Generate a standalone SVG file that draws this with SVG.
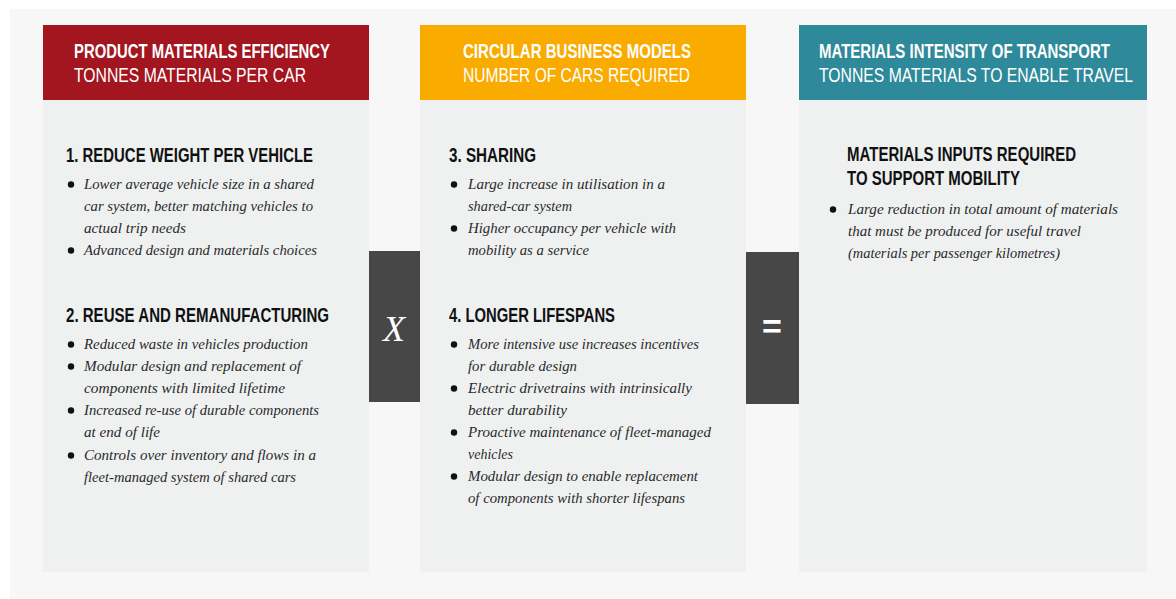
<svg xmlns="http://www.w3.org/2000/svg" width="1176" height="599" viewBox="0 0 1176 599">
  <style>
    .hd1 { font-family: "Liberation Sans", Arial, sans-serif; font-weight: bold; font-size: 19.5px; fill: #ffffff; }
    .hd2 { font-family: "Liberation Sans", Arial, sans-serif; font-size: 19.5px; fill: #ffffff; }
    .sec { font-family: "Liberation Sans", Arial, sans-serif; font-weight: bold; font-size: 19.5px; fill: #111111; }
    .it { font-family: "Liberation Serif", "Times New Roman", serif; font-style: italic; font-size: 15px; fill: #2a2a2a; }
    .body { fill: #eff1f1; }
    .op { fill: #474747; }
    .dot { fill: #111111; }
  </style>

  <!-- page background -->
  <rect x="0" y="0" width="1176" height="599" fill="#ffffff"/>
  <rect x="10" y="9" width="1166" height="590" fill="#f7f7f7"/>

  <!-- column 1: product materials efficiency -->
  <g id="panel-efficiency">
    <rect class="body" x="43" y="100" width="326" height="472"/>
    <rect x="43" y="25" width="326" height="75" fill="#a3151f"/>
    <text class="hd1" x="74" y="58" textLength="256" lengthAdjust="spacingAndGlyphs">PRODUCT MATERIALS EFFICIENCY</text>
    <text class="hd2" x="74" y="82" textLength="232" lengthAdjust="spacingAndGlyphs">TONNES MATERIALS PER CAR</text>

    <text class="sec" x="66" y="162" textLength="247" lengthAdjust="spacingAndGlyphs">1. REDUCE WEIGHT PER VEHICLE</text>
    <circle class="dot" cx="71" cy="184.5" r="3.2"/>
    <text class="it" x="84" y="189" textLength="230" lengthAdjust="spacingAndGlyphs">Lower average vehicle size in a shared</text>
    <text class="it" x="84" y="211" textLength="229" lengthAdjust="spacingAndGlyphs">car system, better matching vehicles to</text>
    <text class="it" x="84" y="233" textLength="102" lengthAdjust="spacingAndGlyphs">actual trip needs</text>
    <circle class="dot" cx="71" cy="250.5" r="3.2"/>
    <text class="it" x="84" y="255" textLength="233" lengthAdjust="spacingAndGlyphs">Advanced design and materials choices</text>

    <text class="sec" x="66" y="322" textLength="263" lengthAdjust="spacingAndGlyphs">2. REUSE AND REMANUFACTURING</text>
    <circle class="dot" cx="71" cy="344.5" r="3.2"/>
    <text class="it" x="84" y="349" textLength="224" lengthAdjust="spacingAndGlyphs">Reduced waste in vehicles production</text>
    <circle class="dot" cx="71" cy="366.5" r="3.2"/>
    <text class="it" x="84" y="371" textLength="217" lengthAdjust="spacingAndGlyphs">Modular design and replacement of</text>
    <text class="it" x="84" y="393" textLength="201" lengthAdjust="spacingAndGlyphs">components with limited lifetime</text>
    <circle class="dot" cx="71" cy="410.5" r="3.2"/>
    <text class="it" x="84" y="415" textLength="235" lengthAdjust="spacingAndGlyphs">Increased re-use of durable components</text>
    <text class="it" x="84" y="437" textLength="76" lengthAdjust="spacingAndGlyphs">at end of life</text>
    <circle class="dot" cx="71" cy="455.5" r="3.2"/>
    <text class="it" x="84" y="460" textLength="232" lengthAdjust="spacingAndGlyphs">Controls over inventory and flows in a</text>
    <text class="it" x="84" y="482" textLength="212" lengthAdjust="spacingAndGlyphs">fleet-managed system of shared cars</text>
  </g>

  <!-- column 2: circular business models -->
  <g id="panel-business">
    <rect class="body" x="420" y="100" width="326" height="472"/>
    <rect x="420" y="25" width="326" height="75" fill="#f9ab00"/>
    <text class="hd1" x="463" y="58" textLength="228" lengthAdjust="spacingAndGlyphs">CIRCULAR BUSINESS MODELS</text>
    <text class="hd2" x="463" y="82" textLength="227" lengthAdjust="spacingAndGlyphs">NUMBER OF CARS REQUIRED</text>

    <text class="sec" x="449" y="162" textLength="87" lengthAdjust="spacingAndGlyphs">3. SHARING</text>
    <circle class="dot" cx="454" cy="184.5" r="3.2"/>
    <text class="it" x="468" y="189" textLength="197" lengthAdjust="spacingAndGlyphs">Large increase in utilisation in a</text>
    <text class="it" x="468" y="211" textLength="104" lengthAdjust="spacingAndGlyphs">shared-car system</text>
    <circle class="dot" cx="454" cy="228.5" r="3.2"/>
    <text class="it" x="468" y="233" textLength="208" lengthAdjust="spacingAndGlyphs">Higher occupancy per vehicle with</text>
    <text class="it" x="468" y="255" textLength="121" lengthAdjust="spacingAndGlyphs">mobility as a service</text>

    <text class="sec" x="449" y="322" textLength="166" lengthAdjust="spacingAndGlyphs">4. LONGER LIFESPANS</text>
    <circle class="dot" cx="454" cy="344.5" r="3.2"/>
    <text class="it" x="468" y="349" textLength="231" lengthAdjust="spacingAndGlyphs">More intensive use increases incentives</text>
    <text class="it" x="468" y="371" textLength="109" lengthAdjust="spacingAndGlyphs">for durable design</text>
    <circle class="dot" cx="454" cy="388.5" r="3.2"/>
    <text class="it" x="468" y="393" textLength="224" lengthAdjust="spacingAndGlyphs">Electric drivetrains with intrinsically</text>
    <text class="it" x="468" y="415" textLength="99" lengthAdjust="spacingAndGlyphs">better durability</text>
    <circle class="dot" cx="454" cy="432.5" r="3.2"/>
    <text class="it" x="468" y="437" textLength="243" lengthAdjust="spacingAndGlyphs">Proactive maintenance of fleet-managed</text>
    <text class="it" x="468" y="459" textLength="45" lengthAdjust="spacingAndGlyphs">vehicles</text>
    <circle class="dot" cx="454" cy="476.5" r="3.2"/>
    <text class="it" x="468" y="481" textLength="230" lengthAdjust="spacingAndGlyphs">Modular design to enable replacement</text>
    <text class="it" x="468" y="503" textLength="217" lengthAdjust="spacingAndGlyphs">of components with shorter lifespans</text>
  </g>

  <!-- column 3: materials intensity of transport -->
  <g id="panel-transport">
    <rect class="body" x="799" y="100" width="348" height="472"/>
    <rect x="799" y="25" width="348" height="75" fill="#2e8a9a"/>
    <text class="hd1" x="819" y="58" textLength="291" lengthAdjust="spacingAndGlyphs">MATERIALS INTENSITY OF TRANSPORT</text>
    <text class="hd2" x="819" y="82" textLength="314" lengthAdjust="spacingAndGlyphs">TONNES MATERIALS TO ENABLE TRAVEL</text>

    <text class="sec" x="847" y="161" textLength="229" lengthAdjust="spacingAndGlyphs">MATERIALS INPUTS REQUIRED</text>
    <text class="sec" x="847" y="185" textLength="173" lengthAdjust="spacingAndGlyphs">TO SUPPORT MOBILITY</text>
    <circle class="dot" cx="833" cy="209.5" r="3.2"/>
    <text class="it" x="848" y="214" textLength="270" lengthAdjust="spacingAndGlyphs">Large reduction in total amount of materials</text>
    <text class="it" x="848" y="236" textLength="233" lengthAdjust="spacingAndGlyphs">that must be produced for useful travel</text>
    <text class="it" x="848" y="258" textLength="212" lengthAdjust="spacingAndGlyphs">(materials per passenger kilometres)</text>
  </g>

  <!-- operators between the columns -->
  <g id="op-multiply">
    <rect class="op" x="369" y="251" width="51" height="151"/>
    <text x="394" y="341" text-anchor="middle" font-family="Liberation Serif, Times New Roman, serif" font-style="italic" font-size="36" fill="#ffffff">X</text>
  </g>
  <g id="op-equals">
    <rect class="op" x="746" y="252" width="53" height="152"/>
    <text x="772" y="338" text-anchor="middle" font-family="Liberation Sans, Arial, sans-serif" font-weight="bold" font-size="34" fill="#ffffff">=</text>
  </g>
</svg>
